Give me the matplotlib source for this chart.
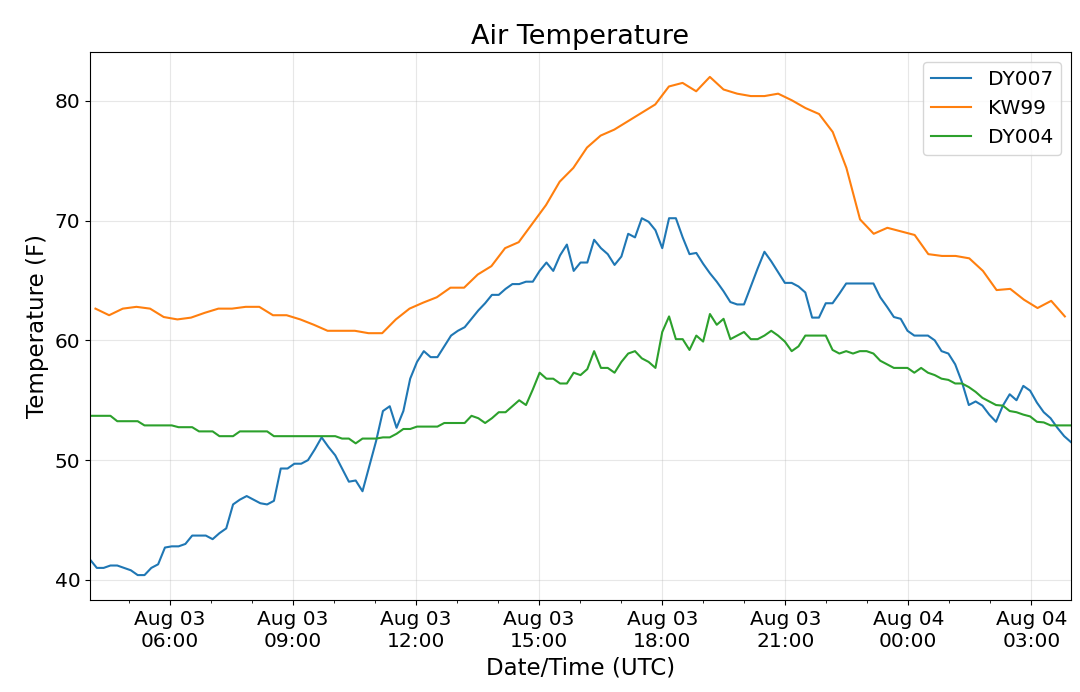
import pandas as pd
import matplotlib
matplotlib.use("Agg")
import matplotlib.pyplot as plt
import matplotlib.dates as mdates

# DY007 and DY004 report every ~10 min, KW99 every ~20 min
times_dy = pd.date_range("2019-08-03 04:03", "2019-08-04 03:58", periods=145)
times_kw = pd.date_range("2019-08-03 04:11", "2019-08-04 03:49", periods=72)

dy007 = [
    41.7, 41.0, 41.0, 41.2, 41.2, 41.0, 40.8, 40.4, 40.4, 41.0,
    41.3, 42.7, 42.8, 42.8, 43.0, 43.7, 43.7, 43.7, 43.4, 43.9,
    44.3, 46.3, 46.7, 47.0, 46.7, 46.4, 46.3, 46.6, 49.3, 49.3,
    49.7, 49.7, 50.0, 50.9, 51.9, 51.1, 50.4, 49.3, 48.2, 48.3,
    47.4, 49.5, 51.6, 54.1, 54.5, 52.7, 54.1, 56.8, 58.2, 59.1,
    58.6, 58.6, 59.5, 60.4, 60.8, 61.1, 61.8, 62.5, 63.1, 63.8,
    63.8, 64.3, 64.7, 64.7, 64.9, 64.9, 65.8, 66.5, 65.8, 67.1,
    68.0, 65.8, 66.5, 66.5, 68.4, 67.7, 67.2, 66.3, 67.0, 68.9,
    68.6, 70.2, 69.9, 69.2, 67.7, 70.2, 70.2, 68.6, 67.2, 67.3,
    66.4, 65.6, 64.9, 64.1, 63.2, 63.0, 63.0, 64.5, 66.0, 67.4,
    66.6, 65.7, 64.8, 64.8, 64.5, 64.0, 61.9, 61.9, 63.1, 63.1,
    63.9, 64.75, 64.75, 64.75, 64.75, 64.75, 63.6, 62.8, 61.95, 61.8,
    60.8, 60.4, 60.4, 60.4, 60.0, 59.1, 58.9, 58.0, 56.5, 54.6,
    54.9, 54.55, 53.8, 53.2, 54.55, 55.5, 55.0, 56.2, 55.8, 54.8,
    54.0, 53.5, 52.7, 52.0, 51.5,
]

kw99 = [
    62.65, 62.1, 62.65, 62.8, 62.65, 61.95, 61.75, 61.9, 62.3, 62.65,
    62.65, 62.8, 62.8, 62.1, 62.1, 61.75, 61.3, 60.8, 60.8, 60.8,
    60.6, 60.6, 61.75, 62.65, 63.15, 63.6, 64.4, 64.4, 65.5, 66.2,
    67.7, 68.2, 69.75, 71.3, 73.25, 74.4, 76.1, 77.1, 77.6, 78.3,
    79.0, 79.7, 81.2, 81.5, 80.8, 82.0, 80.95, 80.6, 80.4, 80.4,
    80.6, 80.05, 79.4, 78.9, 77.4, 74.4, 70.1, 68.9, 69.4, 69.1,
    68.8, 67.2, 67.05, 67.05, 66.85, 65.8, 64.2, 64.3, 63.4, 62.7,
    63.3, 62.0,
]

dy004 = [
    53.7, 53.7, 53.7, 53.7, 53.25, 53.25, 53.25, 53.25, 52.9, 52.9,
    52.9, 52.9, 52.9, 52.75, 52.75, 52.75, 52.4, 52.4, 52.4, 52.0,
    52.0, 52.0, 52.4, 52.4, 52.4, 52.4, 52.4, 52.0, 52.0, 52.0,
    52.0, 52.0, 52.0, 52.0, 52.0, 52.0, 52.0, 51.8, 51.8, 51.4,
    51.8, 51.8, 51.8, 51.9, 51.9, 52.2, 52.6, 52.6, 52.8, 52.8,
    52.8, 52.8, 53.1, 53.1, 53.1, 53.1, 53.7, 53.5, 53.1, 53.5,
    54.0, 54.0, 54.5, 55.0, 54.6, 55.9, 57.3, 56.8, 56.8, 56.4,
    56.4, 57.3, 57.1, 57.6, 59.1, 57.7, 57.7, 57.3, 58.2, 58.9,
    59.1, 58.5, 58.2, 57.7, 60.7, 62.0, 60.1, 60.1, 59.2, 60.4,
    59.9, 62.2, 61.3, 61.8, 60.1, 60.4, 60.7, 60.1, 60.1, 60.4,
    60.8, 60.4, 59.9, 59.1, 59.5, 60.4, 60.4, 60.4, 60.4, 59.2,
    58.9, 59.1, 58.9, 59.1, 59.1, 58.9, 58.3, 58.0, 57.7, 57.7,
    57.7, 57.3, 57.7, 57.3, 57.1, 56.8, 56.7, 56.4, 56.4, 56.1,
    55.7, 55.2, 54.9, 54.6, 54.55, 54.1, 54.0, 53.8, 53.65, 53.2,
    53.15, 52.9, 52.9, 52.9, 52.9,
]

fig, ax = plt.subplots(figsize=(10.8, 6.92), dpi=100)
fig.subplots_adjust(left=90/1080, right=1071/1080, top=1-52/692, bottom=1-600/692)

ax.plot(times_dy, dy007, label="DY007", color="tab:blue")
ax.plot(times_kw, kw99, label="KW99", color="tab:orange")
ax.plot(times_dy, dy004, label="DY004", color="tab:green")

ax.set_xlim(times_dy[0], times_dy[-1])
ax.xaxis.set_major_locator(mdates.HourLocator(byhour=range(0, 24, 3)))
ax.xaxis.set_minor_locator(mdates.HourLocator())
ax.xaxis.set_major_formatter(mdates.DateFormatter("%b %d\n%H:%M"))
ax.tick_params(axis="both", which="major", labelsize=14.5)

ax.set_title("Air Temperature", fontsize=19.5)
ax.set_xlabel("Date/Time (UTC)", fontsize=16.5)
ax.set_ylabel("Temperature (F)", fontsize=16.5)

ax.legend(loc="upper right", fontsize=14.5)
ax.grid(True, alpha=0.3)

fig.savefig("out.png", dpi=100)
